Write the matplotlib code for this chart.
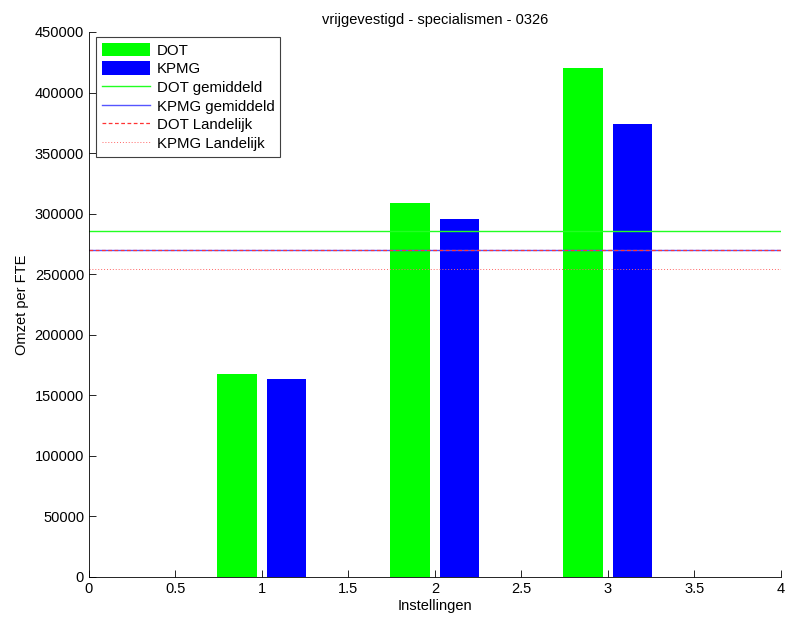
import matplotlib.pyplot as plt
import numpy as np

plt.rcParams["font.family"] = ["Liberation Sans", "DejaVu Sans"]

instellingen = [1, 2, 3]
dot = [167500, 308800, 420500]
kpmg = [163500, 295800, 374000]

dot_gemiddeld = 285800
kpmg_gemiddeld = 270000
dot_landelijk = 270000
kpmg_landelijk = 254500

fig = plt.figure(figsize=(7.86, 6.21), dpi=100)
ax = fig.add_axes([0.1132, 0.0709, 0.8804, 0.8776])

x = np.array(instellingen, dtype=float)
group = 2 / 3.5
slot = group / 2
bw = slot * 0.8
b1 = ax.bar(x - slot / 2, dot, width=bw, color="#00ff00", label="DOT", linewidth=0)
b2 = ax.bar(x + slot / 2, kpmg, width=bw, color="#0000ff", label="KPMG", linewidth=0)

l1, = ax.plot([0, 4], [dot_gemiddeld] * 2, color="#22ff22", lw=1.0, label="DOT gemiddeld")
l2, = ax.plot([0, 4], [kpmg_gemiddeld] * 2, color="#5555ff", lw=1.0, label="KPMG gemiddeld")
l3, = ax.plot([0, 4], [dot_landelijk] * 2, color="#ff3333", lw=0.9, ls=(0, (3, 2)), label="DOT Landelijk")
l4, = ax.plot([0, 4], [kpmg_landelijk] * 2, color="#ff6666", lw=0.7, ls=(0, (1, 2)), label="KPMG Landelijk")

ax.set_xlim(0, 4)
ax.set_ylim(0, 450000)
ax.set_xticks(np.arange(0, 4.01, 0.5))
ax.set_xticklabels(["0", "0.5", "1", "1.5", "2", "2.5", "3", "3.5", "4"])
ax.set_yticks(np.arange(0, 450001, 50000))
ax.set_yticklabels([str(v) for v in range(0, 450001, 50000)])
ax.tick_params(direction="in", length=5, labelsize=10.5, width=0.6)
ax.spines["top"].set_visible(False)
ax.spines["right"].set_visible(False)
for s in ("left", "bottom"):
    ax.spines[s].set_linewidth(0.6)

ax.set_xlabel("Instellingen", fontsize=10.5, labelpad=2)
ax.set_ylabel("Omzet per FTE", fontsize=10.5)
ax.set_title("vrijgevestigd - specialismen - 0326", fontsize=10.5, pad=6)

leg = ax.legend([b1, b2, l1, l2, l3, l4],
                ["DOT", "KPMG", "DOT gemiddeld", "KPMG gemiddeld", "DOT Landelijk", "KPMG Landelijk"],
                loc="upper left", bbox_to_anchor=(0.01, 0.991), fontsize=10.8,
                fancybox=False, framealpha=1, edgecolor="#404040",
                handlelength=3.2, handleheight=1.0, labelspacing=0.25,
                borderpad=0.4, handletextpad=0.45, borderaxespad=0)
leg.get_frame().set_linewidth(0.8)

fig.savefig("out.png", dpi=100)
